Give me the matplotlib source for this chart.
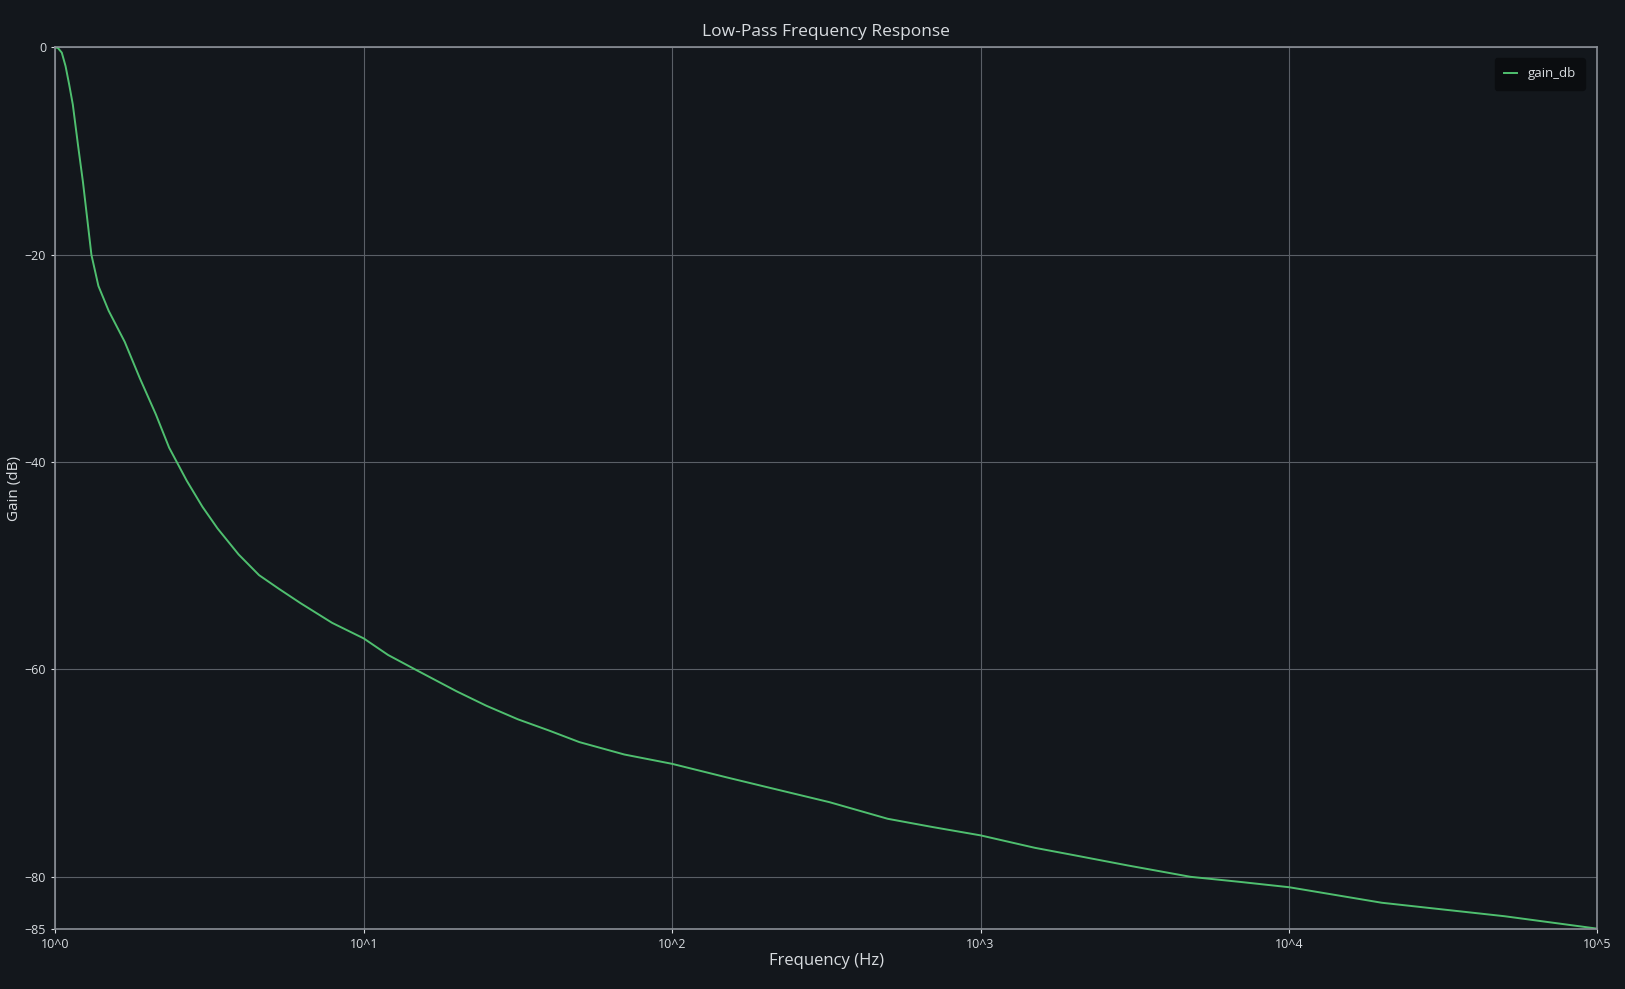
import matplotlib.pyplot as plt

# values
freq_hz = [1.0, 1.02, 1.05, 1.08, 1.11, 1.14, 1.185, 1.23, 1.31, 1.38, 1.49, 1.68, 1.88,
           2.12, 2.34, 2.67, 3.0, 3.36, 3.93, 4.58, 5.3, 6.24, 7.9, 10, 12, 14.7, 20,
           25, 31.6, 40, 50, 70, 100, 150, 200, 324, 500, 700, 1000, 1500, 2000, 3000,
           4800, 7000, 10000, 20000, 50000, 100000]
gain_db = [0.0, -0.05, -0.5, -1.8, -3.6, -5.5, -9.4, -13.0, -20.0, -23.0, -25.4, -28.4, -31.9,
           -35.4, -38.6, -41.8, -44.3, -46.4, -48.9, -50.9, -52.2, -53.6, -55.5, -57.0,
           -58.6, -60.0, -62.1, -63.5, -64.8, -65.9, -67.0, -68.2, -69.1, -70.4, -71.3,
           -72.8, -74.4, -75.2, -76.0, -77.2, -77.9, -78.9, -80.0, -80.5, -81.0, -82.5,
           -83.8, -85.0]

ytick_vals = [0, -20, -40, -60, -80, -85]
xtick_vals = [1, 10, 100, 1000, 10000, 100000]
xtick_labels = ["10^0", "10^1", "10^2", "10^3", "10^4", "10^5"]

bg = "#13171c"
fg = "#d8dce0"
plt.rcParams['font.family'] = ['Open Sans', 'DejaVu Sans']

fig = plt.figure(figsize=(16.25, 9.89), dpi=100, facecolor=bg)
ax = fig.add_axes([0.034, 0.061, 0.949, 0.891], facecolor=bg)

ax.plot(freq_hz, gain_db, color="#4fbf6f", lw=1.4, label="gain_db")
ax.set_xscale("log")
ax.set_xlim(1, 100000)
ax.set_ylim(-85, 0)
ax.set_xticks(xtick_vals)
ax.set_xticklabels(xtick_labels)
ax.minorticks_off()
ax.set_yticks(ytick_vals)
ax.grid(True, color="#5a5f66", lw=0.8)
ax.tick_params(colors=fg, labelsize=9, length=3)
for s in ax.spines.values():
    s.set_color("#8a8f96")
    s.set_linewidth(1.2)

ax.set_title("Low-Pass Frequency Response", color=fg, fontsize=12.5, pad=8)
ax.set_xlabel("Frequency (Hz)", color=fg, fontsize=12, labelpad=2)
ax.set_ylabel("Gain (dB)", color=fg, fontsize=11, labelpad=2)

leg = ax.legend(loc="upper right", facecolor="#0b0d10", edgecolor="#0b0d10",
                labelcolor=fg, fontsize=9.5, borderpad=0.7, handlelength=1.0,
                bbox_to_anchor=(0.992, 0.988), borderaxespad=0)
leg.get_frame().set_alpha(1)
for t in leg.get_texts():
    t.set_ha("left")
leg._legend_box.align = "left"
leg.get_frame().set_width(135)

fig.savefig("out.png", facecolor=bg)
